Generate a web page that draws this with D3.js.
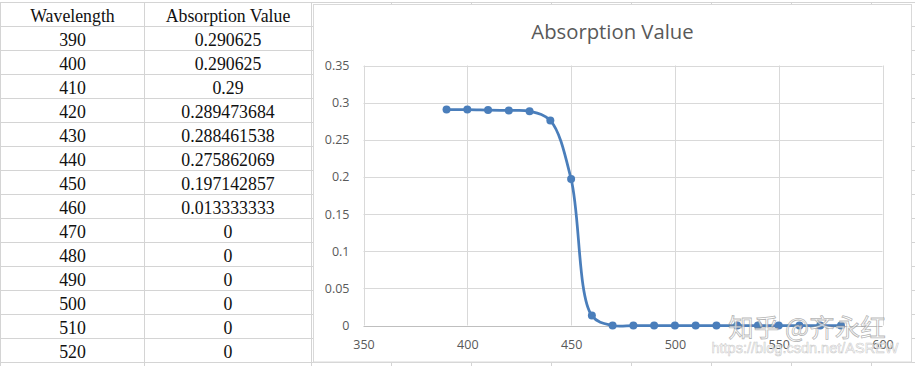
<!DOCTYPE html>
<html>
<head>
<meta charset="utf-8">
<script src="https://cdn.jsdelivr.net/npm/d3@7"></script>
<style>
  body { margin: 0; background: #fff; }
  svg { display: block; }
</style>
</head>
<body>
<svg id="sheet" width="915" height="366"></svg>
<script>
// table / chart data
let wavelength = [390, 400, 410, 420, 430, 440, 450, 460, 470, 480, 490, 500, 510, 520, 530, 540, 550, 560, 570, 580]
let absorption = [0.290625, 0.290625, 0.29, 0.289473684, 0.288461538, 0.275862069, 0.197142857, 0.013333333,
    0, 0, 0, 0, 0, 0, 0, 0, 0, 0, 0, 0]
let tableHeaders = ['Wavelength', 'Absorption Value']
let visibleRows = 14
let xTicks = [350, 400, 450, 500, 550, 600]
let yTicks = [0, 0.05, 0.1, 0.15, 0.2, 0.25, 0.3, 0.35]
let chartTitle = 'Absorption Value'

let svg = d3.select('#sheet')
let gridColor = '#d4d4d4'

// spreadsheet grid behind everything
let rowTop = 26, rowH = 24.02
let rowLines = [2.5]
for (let i = 0; i <= visibleRows; i++) rowLines.push(Math.round(rowTop + i * rowH) + 0.5)
svg.selectAll('line.row')
    .data(rowLines)
    .enter()
    .append('line')
    .attr('class', 'row')
    .attr('x1', 0).attr('x2', 915)
    .attr('y1', d => d).attr('y2', d => d)
    .attr('stroke', gridColor)

let colLines = [0.5, 144.5, 311.5]
for (let x = 391.5; x < 915; x += 80) colLines.push(x)
svg.selectAll('line.col')
    .data(colLines)
    .enter()
    .append('line')
    .attr('class', 'col')
    .attr('x1', d => d).attr('x2', d => d)
    .attr('y1', 2.5).attr('y2', 366)
    .attr('stroke', gridColor)

// table text
const cellText = (x, baseline, txt) => {
    svg.append('text')
        .attr('x', x).attr('y', baseline)
        .attr('text-anchor', 'middle')
        .style('font-family', '"Liberation Serif", serif')
        .style('font-size', '17.8px')
        .attr('fill', '#111')
        .text(txt)
}
let colCenters = [72.5, 228]
tableHeaders.forEach((h, i) => cellText(colCenters[i], 21.5, h))
wavelength.slice(0, visibleRows).forEach((w, i) => {
    let base = rowTop + i * rowH + 19.5
    cellText(colCenters[0], base, String(w))
    cellText(colCenters[1], base, String(absorption[i]))
})

// chart box
svg.append('rect')
    .attr('x', 313.5).attr('y', 4.5)
    .attr('width', 598).attr('height', 357.5)
    .attr('fill', '#fff')
    .attr('stroke', '#d9d9d9')

svg.append('text')
    .attr('x', 612.5).attr('y', 39)
    .attr('text-anchor', 'middle')
    .style('font-family', '"Open Sans", sans-serif')
    .style('font-size', '20.3px')
    .attr('fill', '#595959')
    .text(chartTitle)

let xScale = d3.scaleLinear().domain([350, 600]).range([363.5, 882.5])
let yScale = d3.scaleLinear().domain([0, 0.35]).range([325.5, 65.5])

let plot = svg.append('g')

// gridlines
plot.selectAll('line.vgrid')
    .data(xTicks)
    .enter()
    .append('line')
    .attr('x1', d => Math.round(xScale(d)) + 0.5).attr('x2', d => Math.round(xScale(d)) + 0.5)
    .attr('y1', yScale(0.35)).attr('y2', yScale(0))
    .attr('stroke', '#d9d9d9')
plot.selectAll('line.hgrid')
    .data(yTicks)
    .enter()
    .append('line')
    .attr('x1', xScale(350)).attr('x2', xScale(600))
    .attr('y1', d => Math.round(yScale(d)) + 0.5).attr('y2', d => Math.round(yScale(d)) + 0.5)
    .attr('stroke', d => d === 0 ? '#bfbfbf' : '#d9d9d9')

// axes (labels only)
let xAxis = d3.axisBottom(xScale).tickValues(xTicks).tickSize(0).tickPadding(0).tickFormat(d => String(d))
let yAxis = d3.axisLeft(yScale).tickValues(yTicks).tickSize(0).tickPadding(0).tickFormat(d => String(d))

let gx = svg.append('g').attr('transform', 'translate(0, 340)').call(xAxis)
let gy = svg.append('g').attr('transform', 'translate(349.5, 0)').call(yAxis)
;[gx, gy].forEach(g => {
    g.select('.domain').remove()
    g.selectAll('text')
        .style('font-family', '"Open Sans", sans-serif')
        .style('font-size', '12.5px')
        .attr('fill', '#595959')
})

// smoothed series
let points = wavelength.map((w, i) => [w, absorption[i]])
let line = d3.line()
    .x(d => xScale(d[0]))
    .y(d => yScale(d[1]))
    .curve(d3.curveCatmullRom.alpha(0.5))

plot.append('path')
    .datum(points)
    .attr('d', line)
    .attr('fill', 'none')
    .attr('stroke', '#4a7ebb')
    .attr('stroke-width', 2.75)
    .attr('stroke-linejoin', 'round')

plot.selectAll('circle')
    .data(points)
    .enter()
    .append('circle')
    .attr('cx', d => xScale(d[0]))
    .attr('cy', d => yScale(d[1]))
    .attr('r', 4)
    .attr('fill', '#4a7ebb')

// watermark
svg.append('text')
    .attr('x', 807).attr('y', 337)
    .attr('text-anchor', 'middle')
    .style('font-family', '"Noto Sans CJK SC", sans-serif')
    .style('font-size', '25.5px')
    .attr('fill', 'rgba(255,255,255,0.7)')
    .attr('stroke', 'rgba(130,130,130,0.6)')
    .attr('stroke-width', 0.8)
    .text('知乎 @齐永红')
svg.append('text')
    .attr('x', 805).attr('y', 353)
    .attr('text-anchor', 'middle')
    .style('font-family', '"Liberation Sans", sans-serif')
    .style('font-size', '14.5px')
    .attr('fill', 'rgba(255,255,255,0.75)')
    .attr('stroke', 'rgba(150,150,150,0.5)')
    .attr('stroke-width', 0.6)
    .text('https://blog.csdn.net/ASREW')
</script>
</body>
</html>
